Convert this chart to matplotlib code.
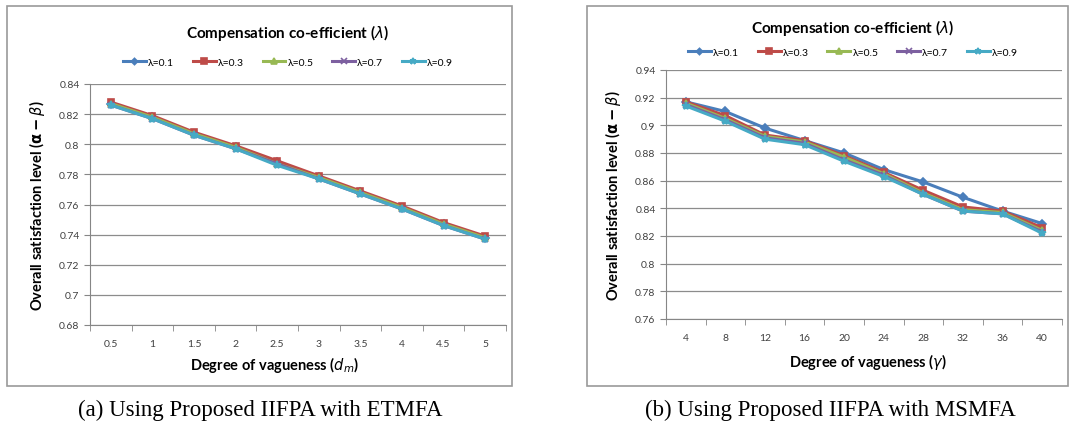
import matplotlib
matplotlib.use("Agg")
import matplotlib.pyplot as plt
from matplotlib.patches import Rectangle
from matplotlib.ticker import FuncFormatter, FixedLocator
import numpy as np

# degree of vagueness categories
dm_labels = ["0.5", "1", "1.5", "2", "2.5", "3", "3.5", "4", "4.5", "5"]
gamma_labels = ["4", "8", "12", "16", "20", "24", "28", "32", "36", "40"]
lambda_names = ["λ=0.1", "λ=0.3", "λ=0.5", "λ=0.7", "λ=0.9"]

# (a) ETMFA
etm_01 = [0.827, 0.818, 0.807, 0.798, 0.788, 0.778, 0.768, 0.758, 0.747, 0.738]
etm_03 = [0.828, 0.819, 0.808, 0.799, 0.789, 0.779, 0.769, 0.759, 0.748, 0.739]
etm_05 = [0.827, 0.818, 0.807, 0.798, 0.787, 0.778, 0.768, 0.758, 0.747, 0.738]
etm_07 = [0.826, 0.817, 0.806, 0.797, 0.787, 0.777, 0.767, 0.757, 0.746, 0.737]
etm_09 = [0.826, 0.817, 0.806, 0.797, 0.786, 0.777, 0.767, 0.757, 0.746, 0.737]

# (b) MSMFA
msm_01 = [0.917, 0.910, 0.898, 0.889, 0.880, 0.868, 0.859, 0.848, 0.838, 0.829]
msm_03 = [0.917, 0.907, 0.893, 0.889, 0.878, 0.866, 0.853, 0.841, 0.838, 0.826]
msm_05 = [0.916, 0.905, 0.892, 0.888, 0.877, 0.865, 0.851, 0.839, 0.837, 0.824]
msm_07 = [0.915, 0.904, 0.891, 0.887, 0.875, 0.864, 0.850, 0.838, 0.836, 0.823]
msm_09 = [0.914, 0.903, 0.890, 0.886, 0.874, 0.863, 0.850, 0.838, 0.836, 0.822]

colors = ["#4A7EBB", "#BE4B48", "#98B954", "#7D60A0", "#46AAC5"]
markers = ["D", "s", "^", "x", "*"]
msizes = [4, 5, 5, 5, 6]

W, H = 1073, 431
plt.rcParams['font.family'] = ['Lato', 'DejaVu Sans']
plt.rcParams['mathtext.fontset'] = 'dejavusans'
fig = plt.figure(figsize=(W / 100, H / 100), dpi=100)


def px_axes(x0, y0, x1, y1):
    return fig.add_axes([x0 / W, 1 - y1 / H, (x1 - x0) / W, (y1 - y0) / H])


def frame(x0, y0, x1, y1):
    fig.patches.append(Rectangle((x0 / W, 1 - y1 / H), (x1 - x0) / W, (y1 - y0) / H,
                                 transform=fig.transFigure, fill=False,
                                 edgecolor="#9a9a9a", lw=1.2))


def fmt(v, pos):
    return ("%.2f" % v).rstrip("0").rstrip(".")


def panel(box, plot, series, cats, yticks, xlabel, title_y, leg_y, cx, xl_x):
    frame(*box)
    ax = px_axes(*plot)
    x = np.arange(len(cats))
    for i, s in enumerate(series):
        ax.plot(x, s, color=colors[i], marker=markers[i], ms=msizes[i], lw=2.2,
                mew=1.2, label=lambda_names[i], zorder=3 + i)
    ax.set_xlim(-0.5, len(cats) - 0.5)
    ax.set_ylim(yticks[0], yticks[-1])
    ax.set_yticks(yticks)
    ax.yaxis.set_major_formatter(FuncFormatter(fmt))
    ax.set_xticks(x)
    ax.set_xticklabels(cats)
    ax.xaxis.set_minor_locator(FixedLocator(np.arange(len(cats) + 1) - 0.5))
    ax.tick_params(axis="x", which="major", length=0, pad=10, labelsize=7.5, labelcolor="#404040")
    ax.tick_params(axis="x", which="minor", length=4, color="#868686", direction="out")
    ax.tick_params(axis="y", length=4, color="#868686", labelsize=7.5, labelcolor="#404040")
    ax.grid(axis="y", color="#8c8c8c", lw=0.9)
    ax.set_axisbelow(True)
    for sp in ["top", "right"]:
        ax.spines[sp].set_visible(False)
    for sp in ["left", "bottom"]:
        ax.spines[sp].set_color("#868686")
    ax.set_xlabel(xlabel, fontsize=10.5, fontweight="bold", labelpad=7)
    ax.xaxis.set_label_coords((xl_x - plot[0]) / (plot[2] - plot[0]), -0.12)
    ax.xaxis.label.set_va("center")
    ax.set_ylabel(r"Overall satisfaction level ($\mathbf{\alpha-}\beta$)",
                  fontsize=10.5, fontweight="bold", labelpad=9)
    fig.text(cx / W, 1 - title_y / H, r"Compensation co-efficient ($\lambda$)",
             ha="center", va="center", fontsize=11, fontweight="bold")
    fig.legend(*ax.get_legend_handles_labels(), loc="center",
               bbox_to_anchor=(cx / W, 1 - leg_y / H), ncol=5, frameon=False,
               fontsize=7.5, handlelength=2.2, columnspacing=1.8, handletextpad=0.2,
               markerscale=0.8)
    return ax


ax1 = panel((7, 7, 512, 387), (90, 85, 506, 326),
            [etm_01, etm_03, etm_05, etm_07, etm_09], dm_labels,
            [0.68, 0.70, 0.72, 0.74, 0.76, 0.78, 0.80, 0.82, 0.84],
            r"Degree of vagueness ($d_m$)", 33, 63, 288, 275)
ax1.xaxis.set_label_coords((275 - 90) / (506 - 90), -(365 - 326) / (326 - 85))
ax2 = panel((587, 7, 1068, 387), (666, 71, 1062, 320),
            [msm_01, msm_03, msm_05, msm_07, msm_09], gamma_labels,
            [0.76, 0.78, 0.80, 0.82, 0.84, 0.86, 0.88, 0.90, 0.92, 0.94],
            r"Degree of vagueness ($\gamma$)", 28, 53, 853, 868)
ax2.xaxis.set_label_coords((868 - 666) / (1062 - 666), -(362 - 320) / (320 - 71))

fig.text(260 / W, 1 - 410 / H, "(a) Using Proposed IIFPA with ETMFA", ha="center", va="center",
         fontsize=16.5, family="Liberation Serif")
fig.text(830 / W, 1 - 410 / H, "(b) Using Proposed IIFPA with MSMFA", ha="center", va="center",
         fontsize=16.5, family="Liberation Serif")

fig.savefig("out.png", dpi=100)
